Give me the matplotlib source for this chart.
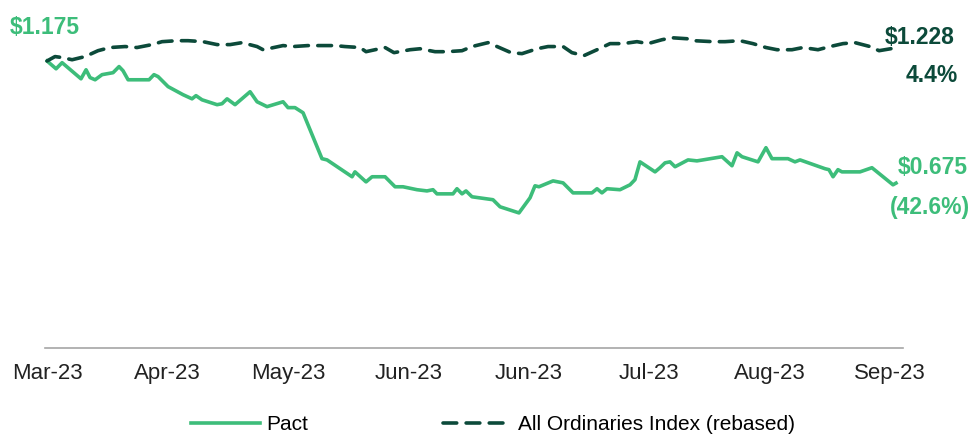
import matplotlib
matplotlib.use("Agg")
import matplotlib.pyplot as plt
from matplotlib import font_manager

# fonts: narrow sans if we have it, else plain Liberation Sans
names = set(f.name for f in font_manager.fontManager.ttflist)
if "Liberation Sans Narrow" in names:
    FONT = "Liberation Sans Narrow"
    FS_TICK, FS_LEG, FS_LAB = 18, 18, 19
else:
    FONT = "Liberation Sans"
    FS_TICK, FS_LEG, FS_LAB = 16, 15, 16.5
plt.rcParams['font.family'] = [FONT, 'DejaVu Sans']

GREEN = "#3dbd7a"
DARK = "#0c4a3a"

# x is months since start of March 2023
tick_labels = ["Mar-23", "Apr-23", "May-23", "Jun-23", "Jun-23", "Jul-23", "Aug-23", "Sep-23"]

pact_x = [0.0, 0.075, 0.125, 0.282, 0.324, 0.357, 0.399, 0.457, 0.548, 0.598,
          0.631, 0.673, 0.847, 0.888, 0.922, 1.005, 1.129, 1.204, 1.237, 1.287,
          1.412, 1.453, 1.495, 1.561, 1.686, 1.744, 1.827, 1.960, 2.001, 2.059,
          2.126, 2.283, 2.325, 2.533, 2.557, 2.649, 2.699, 2.807, 2.890, 2.956,
          3.072, 3.155, 3.205, 3.238, 3.371, 3.404, 3.446, 3.479, 3.529, 3.703,
          3.762, 3.919, 4.011, 4.052, 4.085, 4.202, 4.285, 4.368, 4.525, 4.567,
          4.608, 4.650, 4.758, 4.841, 4.882, 4.924, 5.049, 5.090, 5.132, 5.173,
          5.215, 5.323, 5.397, 5.447, 5.605, 5.688, 5.730, 5.771, 5.904, 5.970,
          6.020, 6.153, 6.211, 6.253, 6.460, 6.493, 6.527, 6.568, 6.601, 6.751,
          6.850, 7.025, 7.050]
pact_y = [1.175, 1.143, 1.168, 1.102, 1.139, 1.107, 1.098, 1.119, 1.127, 1.152,
          1.135, 1.098, 1.098, 1.119, 1.111, 1.070, 1.037, 1.020, 1.033, 1.016,
          0.996, 1.000, 1.020, 0.996, 1.049, 1.008, 0.988, 1.008, 0.984, 0.984,
          0.963, 0.775, 0.770, 0.701, 0.721, 0.680, 0.701, 0.701, 0.660, 0.660,
          0.648, 0.643, 0.648, 0.631, 0.631, 0.652, 0.631, 0.643, 0.619, 0.607,
          0.578, 0.553, 0.615, 0.664, 0.660, 0.684, 0.676, 0.635, 0.635, 0.652,
          0.635, 0.652, 0.648, 0.668, 0.689, 0.762, 0.721, 0.738, 0.758, 0.762,
          0.742, 0.770, 0.766, 0.770, 0.783, 0.746, 0.799, 0.783, 0.762, 0.820,
          0.775, 0.775, 0.762, 0.770, 0.734, 0.730, 0.701, 0.730, 0.721, 0.721,
          0.738, 0.668, 0.675]

index_x = [0.0, 0.066, 0.125, 0.208, 0.316, 0.423, 0.523, 0.648, 0.747, 0.872,
           0.955, 1.079, 1.171, 1.295, 1.412, 1.520, 1.619, 1.744, 1.794, 1.835,
           1.960, 2.043, 2.167, 2.267, 2.391, 2.474, 2.599, 2.649, 2.807, 2.881,
           3.014, 3.097, 3.222, 3.321, 3.446, 3.529, 3.662, 3.737, 3.853, 3.944,
           4.069, 4.160, 4.285, 4.359, 4.459, 4.567, 4.675, 4.783, 4.899, 4.990,
           5.107, 5.190, 5.314, 5.372, 5.530, 5.630, 5.754, 5.862, 5.970, 6.062,
           6.186, 6.278, 6.402, 6.502, 6.610, 6.709, 6.834, 6.909, 7.041]
index_y = [1.175, 1.193, 1.189, 1.180, 1.193, 1.217, 1.230, 1.234, 1.230, 1.242,
           1.254, 1.258, 1.258, 1.254, 1.242, 1.242, 1.250, 1.234, 1.221, 1.225,
           1.238, 1.234, 1.238, 1.238, 1.238, 1.234, 1.230, 1.213, 1.230, 1.209,
           1.221, 1.225, 1.213, 1.213, 1.217, 1.234, 1.250, 1.234, 1.209, 1.205,
           1.225, 1.234, 1.234, 1.209, 1.197, 1.221, 1.246, 1.246, 1.254, 1.246,
           1.262, 1.270, 1.266, 1.258, 1.254, 1.254, 1.258, 1.246, 1.230, 1.221,
           1.221, 1.230, 1.221, 1.234, 1.246, 1.250, 1.234, 1.217, 1.228]

W, H = 973, 434
fig = plt.figure(figsize=(W / 100, H / 100), dpi=100)
ax = fig.add_axes([45 / W, 1 - 348 / H, (903 - 45) / W, (348 - 6) / H])

ax.plot(pact_x, pact_y, color=GREEN, lw=2.6, label="Pact", solid_joinstyle="round")
ax.plot(index_x, index_y, color=DARK, lw=2.6, dashes=(3.8, 2.6),
        label="All Ordinaries Index (rebased)", dash_capstyle="round")

ax.set_xlim(-0.017, 7.108)
ax.set_ylim(0, 1.4)
ax.set_xticks(range(len(tick_labels)))
ax.set_xticklabels(tick_labels, fontsize=FS_TICK, color="#222222")
ax.tick_params(axis="x", length=0, pad=11)
ax.set_yticks([])
for s in ["top", "right", "left"]:
    ax.spines[s].set_visible(False)
ax.spines["bottom"].set_color("#a6a6a6")
ax.spines["bottom"].set_linewidth(1.2)

# value callouts
def px(x, y):
    return x / W, 1 - y / H

fig.text(*px(10, 27), "$1.175", color=GREEN, fontsize=FS_LAB, fontweight="bold", va="center", ha="left")
fig.text(*px(955, 37), "$1.228", color=DARK, fontsize=FS_LAB, fontweight="bold", va="center", ha="right")
fig.text(*px(958, 75), "4.4%", color=DARK, fontsize=FS_LAB, fontweight="bold", va="center", ha="right")
fig.text(*px(968, 167), "$0.675", color=GREEN, fontsize=FS_LAB, fontweight="bold", va="center", ha="right")
fig.text(*px(970, 208), "(42.6%)", color=GREEN, fontsize=FS_LAB, fontweight="bold", va="center", ha="right")

fig.legend(loc="center", bbox_to_anchor=(px(493, 425)), ncol=2, frameon=False,
           fontsize=FS_LEG, handlelength=3.3, handletextpad=0.3, columnspacing=6.5)

fig.savefig("out.png", dpi=100)
